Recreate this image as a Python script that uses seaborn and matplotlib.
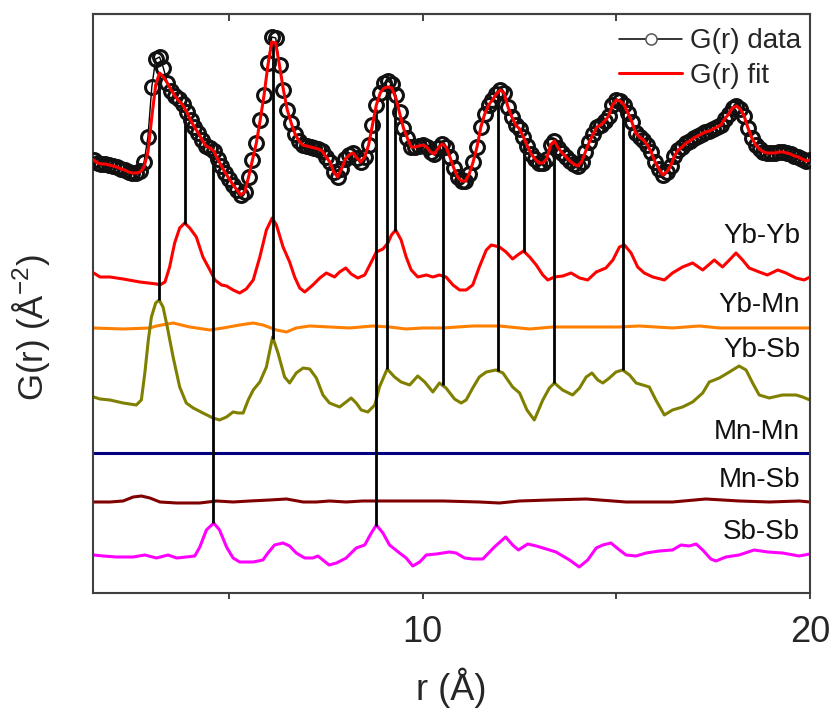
import numpy as np
import pandas as pd
import matplotlib
matplotlib.use("Agg")
import matplotlib.pyplot as plt
from matplotlib.lines import Line2D
import seaborn as sns

# ---------------- data (stacked, arbitrary units) ----------------
r_grid = np.round(np.arange(1.5, 20.0001, 0.1), 1)

g_data = [
    433, 430, 429, 429, 428,
    427, 426, 424, 423, 421, 420, 420, 422, 431, 456,
    506, 534, 536, 525, 510, 502, 497, 494, 489, 481,
    473, 466, 460, 453, 447, 445, 442, 434, 427, 420,
    414, 408, 403, 398, 401, 416, 433, 450, 473, 498,
    530, 556, 555, 528, 503, 483, 470, 459, 452, 448,
    447, 446, 445, 444, 442, 436, 431, 421, 416, 424,
    434, 438, 440, 435, 431, 436, 448, 468, 488, 500,
    510, 512, 509, 498, 481, 465, 455, 446, 446, 447,
    448, 446, 441, 439, 445, 449, 446, 436, 425, 416,
    412, 412, 419, 431, 446, 466, 479, 488, 493, 499,
    503, 500, 486, 476, 468, 464, 456, 447, 439, 434,
    430, 430, 434, 448, 452, 445, 440, 436, 432, 429,
    427, 431, 441, 451, 459, 466, 468, 472, 477, 488,
    493, 492, 488, 480, 471, 460, 456, 453, 448, 441,
    431, 424, 418, 421, 427, 437, 443, 446, 450, 452,
    455, 457, 459, 461, 462, 464, 466, 468, 474, 479,
    485, 487, 484, 477, 465, 455, 448, 444, 441, 440,
    440, 440, 441, 441, 440, 439, 437, 436, 434, 432,
    433,
]

g_fit = [
    433, 430, 429, 429, 428,
    427, 426, 424, 423, 421, 420, 420, 421, 426, 441,
    476, 508, 520, 516, 510, 503, 497, 492, 488, 481,
    473, 466, 460, 453, 447, 445, 442, 434, 427, 420,
    414, 408, 403, 398, 401, 416, 433, 450, 473, 498,
    528, 551, 550, 527, 503, 483, 470, 459, 452, 448,
    447, 446, 445, 444, 442, 436, 431, 421, 416, 424,
    434, 438, 440, 435, 431, 436, 448, 468, 488, 500,
    505, 506, 505, 495, 480, 465, 455, 446, 446, 447,
    448, 446, 441, 439, 445, 449, 446, 436, 425, 416,
    412, 412, 419, 431, 446, 466, 479, 488, 493, 499,
    503, 500, 486, 476, 468, 464, 456, 447, 439, 434,
    430, 430, 434, 448, 452, 445, 440, 436, 432, 429,
    427, 431, 441, 451, 459, 466, 468, 472, 477, 488,
    493, 492, 488, 480, 471, 460, 456, 453, 448, 441,
    431, 424, 418, 421, 427, 437, 443, 446, 450, 452,
    455, 457, 459, 461, 462, 464, 466, 468, 474, 479,
    485, 487, 484, 477, 465, 455, 448, 444, 441, 440,
    440, 440, 441, 441, 440, 439, 437, 436, 434, 432,
    433,
]

yb_yb_r = [1.50, 1.66, 1.92, 2.26, 2.69, 3.12, 3.21, 3.34, 3.46, 3.59, 3.72, 3.85, 3.98,
           4.15, 4.32, 4.50, 4.63, 4.80, 4.93, 5.10, 5.27, 5.44, 5.62, 5.79, 5.96, 6.11,
           6.22, 6.39, 6.56, 6.69, 6.82, 6.95, 7.16, 7.34, 7.51, 7.72, 7.85, 8.01, 8.15,
           8.32, 8.50, 8.67, 8.80, 8.97, 9.10, 9.19, 9.30, 9.44, 9.57, 9.70, 9.87, 10.09,
           10.26, 10.43, 10.60, 10.78, 10.95, 11.12, 11.29, 11.46, 11.64, 11.77, 11.98,
           12.15, 12.32, 12.45, 12.60, 12.76, 12.93, 13.10, 13.23, 13.40, 13.62, 13.83,
           14.05, 14.26, 14.48, 14.73, 14.91, 15.08, 15.21, 15.38, 15.55, 15.72, 15.94,
           16.24, 16.45, 16.71, 16.97, 17.23, 17.53, 17.74, 17.92, 18.09, 18.26, 18.43,
           18.69, 18.90, 19.17, 19.38, 19.64, 19.85, 20.00]
yb_yb_g = [320, 316, 316, 314, 311, 309, 308, 311, 326, 350, 365, 370, 365, 356, 336, 323,
           313, 308, 307, 303, 300, 304, 313, 336, 363, 375, 368, 346, 331, 316, 305, 301,
           308, 315, 320, 316, 321, 325, 319, 315, 318, 331, 341, 344, 350, 358, 363, 353,
           336, 323, 316, 318, 316, 318, 316, 308, 303, 303, 308, 326, 343, 348, 346, 341,
           334, 338, 342, 336, 328, 318, 313, 316, 317, 320, 315, 313, 321, 325, 333, 346,
           348, 340, 326, 320, 316, 313, 320, 326, 330, 323, 333, 326, 333, 340, 333, 325,
           321, 318, 323, 320, 315, 313, 316]

yb_mn_r = [1.50, 2.26, 2.95, 3.12, 3.55, 3.98, 4.50, 4.84, 5.27, 5.62, 5.87, 6.22, 6.48,
           6.73, 7.08, 7.59, 8.11, 8.71, 9.14, 9.57, 10.00, 10.52, 11.29, 11.98, 12.50,
           12.76, 13.36, 14.22, 15.08, 15.59, 16.45, 17.14, 17.66, 18.60, 20.00]
yb_mn_g = [265, 264, 265, 267, 270, 266, 263, 265, 268, 270, 268, 263, 261, 265, 267, 266,
           265, 267, 266, 264, 265, 265, 267, 267, 265, 264, 266, 266, 266, 267, 265, 267,
           265, 265, 265]

yb_sb_r = [1.50, 1.66, 1.92, 2.26, 2.60, 2.73, 2.82, 2.91, 2.99, 3.10, 3.19, 3.29, 3.40,
           3.55, 3.72, 3.89, 4.07, 4.32, 4.58, 4.75, 4.93, 5.10, 5.23, 5.36, 5.49, 5.62,
           5.79, 5.96, 6.12, 6.26, 6.43, 6.56, 6.73, 6.91, 7.08, 7.25, 7.42, 7.59, 7.85,
           8.02, 8.15, 8.28, 8.41, 8.58, 8.76, 8.88, 9.08, 9.27, 9.44, 9.66, 9.87, 10.05,
           10.26, 10.43, 10.60, 10.82, 10.99, 11.12, 11.29, 11.46, 11.64, 11.89, 12.07,
           12.32, 12.50, 12.69, 12.88, 13.10, 13.27, 13.40, 13.61, 13.87, 14.05, 14.22,
           14.37, 14.52, 14.65, 14.82, 14.99, 15.16, 15.34, 15.51, 15.68, 15.85, 16.02,
           16.24, 16.45, 16.71, 16.97, 17.23, 17.40, 17.66, 17.92, 18.17, 18.35, 18.52,
           18.69, 18.95, 19.29, 19.64, 19.81, 20.00]
yb_sb_g = [196, 194, 193, 190, 188, 193, 220, 253, 276, 290, 293, 286, 266, 236, 206, 190,
           185, 180, 175, 173, 176, 181, 180, 180, 193, 203, 211, 226, 256, 240, 216, 210,
           220, 225, 224, 215, 198, 190, 186, 191, 195, 190, 183, 181, 188, 206, 224, 216,
           211, 208, 217, 211, 201, 210, 205, 194, 190, 193, 205, 216, 221, 223, 220, 206,
           200, 183, 173, 193, 205, 210, 203, 198, 205, 216, 220, 213, 210, 215, 221, 223,
           218, 210, 208, 206, 193, 178, 183, 186, 191, 200, 211, 215, 221, 227, 223, 210,
           198, 195, 198, 198, 196, 193]

mn_mn_r = [1.50, 20.00]
mn_mn_g = [140, 140]

mn_sb_r = [1.50, 1.92, 2.26, 2.52, 2.73, 2.95, 3.21, 3.64, 4.24, 4.67, 5.10, 5.53, 6.05,
           6.48, 6.91, 7.25, 7.59, 8.02, 8.45, 8.88, 9.40, 10.00, 10.52, 11.46, 11.98,
           12.50, 13.27, 14.22, 15.25, 16.45, 17.31, 18.17, 18.95, 19.72, 20.00]
mn_sb_g = [91, 91, 92, 96, 97, 95, 91, 90, 90, 92, 91, 92, 93, 94, 91, 91, 92, 91, 92, 92,
           92, 92, 92, 91, 90, 92, 93, 94, 91, 91, 94, 92, 91, 92, 91]

sb_sb_r = [1.50, 1.74, 2.09, 2.52, 2.82, 3.12, 3.42, 3.64, 3.89, 4.11, 4.24, 4.41, 4.60,
           4.75, 4.93, 5.10, 5.27, 5.62, 5.87, 6.00, 6.17, 6.39, 6.56, 6.73, 6.95, 7.16,
           7.29, 7.42, 7.58, 7.77, 8.02, 8.28, 8.50, 8.67, 8.80, 8.97, 9.14, 9.40, 9.57,
           9.74, 9.92, 10.09, 10.35, 10.69, 10.86, 11.08, 11.29, 11.55, 11.85, 12.14,
           12.32, 12.47, 12.71, 12.93, 13.19, 13.44, 13.79, 14.04, 14.26, 14.48, 14.65,
           14.86, 15.08, 15.25, 15.51, 15.77, 16.11, 16.45, 16.67, 16.88, 17.06, 17.23,
           17.44, 17.57, 17.83, 18.17, 18.56, 18.91, 19.29, 19.72, 20.00]
sb_sb_g = [38, 37, 36, 36, 38, 35, 38, 35, 36, 37, 46, 63, 70, 63, 46, 35, 31, 31, 33, 40,
           48, 50, 47, 40, 35, 35, 37, 33, 28, 30, 35, 45, 48, 60, 68, 60, 48, 40, 35, 27,
           31, 38, 39, 41, 40, 35, 34, 34, 46, 56, 48, 43, 49, 47, 44, 41, 33, 26, 33, 45,
           48, 50, 43, 38, 37, 40, 42, 43, 48, 47, 49, 43, 34, 32, 36, 38, 43, 41, 40, 37,
           39]

pair_names = ["Yb-Yb", "Yb-Mn", "Yb-Sb", "Mn-Mn", "Mn-Sb", "Sb-Sb"]

# peak positions marked by drop lines, and the partial each one belongs to
peak_r = [3.19, 3.87, 4.59, 6.14, 8.78, 9.08, 9.27, 10.51, 11.94, 12.62, 13.39, 15.17]
peak_pair = ["Yb-Sb", "Yb-Yb", "Sb-Sb", "Yb-Sb", "Sb-Sb", "Yb-Sb", "Yb-Yb",
             "Yb-Sb", "Yb-Sb", "Yb-Yb", "Yb-Sb", "Yb-Sb"]

# ---------------- styling ----------------
pair_colors = {"Yb-Yb": "#ff0000", "Yb-Mn": "#ff8000", "Yb-Sb": "#808000",
               "Mn-Mn": "#000080", "Mn-Sb": "#800000", "Sb-Sb": "#ff00ff"}
label_x = 19.75
label_y = {"Yb-Yb": 350, "Yb-Mn": 281, "Yb-Sb": 236,
           "Mn-Mn": 154, "Mn-Sb": 106, "Sb-Sb": 54}

sns.set_theme(style="white")
plt.rcParams["font.family"] = ["Liberation Sans", "DejaVu Sans"]
plt.rcParams["mathtext.fontset"] = "custom"
plt.rcParams["mathtext.rm"] = "Liberation Sans"
plt.rcParams["mathtext.default"] = "regular"

partials = {
    "Yb-Yb": (yb_yb_r, yb_yb_g), "Yb-Mn": (yb_mn_r, yb_mn_g), "Yb-Sb": (yb_sb_r, yb_sb_g),
    "Mn-Mn": (mn_mn_r, mn_mn_g), "Mn-Sb": (mn_sb_r, mn_sb_g), "Sb-Sb": (sb_sb_r, sb_sb_g),
}
df_part = pd.concat(
    [pd.DataFrame({"r": r, "G": g, "pair": name}) for name, (r, g) in partials.items()],
    ignore_index=True,
)

fig = plt.figure(figsize=(8.33, 7.10), dpi=100)
ax = fig.add_axes([0.1116, 0.1648, 0.8607, 0.8155])

sns.lineplot(data=df_part, x="r", y="G", hue="pair", palette=pair_colors,
             estimator=None, sort=False, units="pair", lw=2.2, legend=False,
             ax=ax, zorder=2)

# drop lines from the fitted curve down to the matching partial peak
tops = np.interp(peak_r, r_grid, g_fit)
bottoms = [np.interp(p, *partials[name]) for p, name in zip(peak_r, peak_pair)]
ax.vlines(peak_r, bottoms, tops, colors="black", lw=2.0, zorder=3)

sns.lineplot(x=r_grid, y=g_data, estimator=None, sort=False, color="black", lw=1.0,
             marker="o", markersize=10, markerfacecolor="none",
             markeredgecolor="#111111", markeredgewidth=2.2, ax=ax, zorder=3.5)
sns.lineplot(x=r_grid, y=g_fit, estimator=None, sort=False, color="#ff0000", lw=2.2,
             ax=ax, zorder=4)

for name in pair_names:
    ax.text(label_x, label_y[name], name, ha="right", va="baseline",
            fontsize=20, color="#111111")

handles = [
    Line2D([0], [0], color="black", lw=1.1, marker="o", markersize=8,
           markerfacecolor="white", markeredgecolor="#555555", markeredgewidth=1.1),
    Line2D([0], [0], color="#ff0000", lw=2.2),
]
ax.legend(handles, ["G(r) data", "G(r) fit"], loc="upper right",
          bbox_to_anchor=(0.988, 0.975), frameon=False, fontsize=20,
          handlelength=2.25, handletextpad=0.3, labelspacing=0.3,
          borderpad=0.0, borderaxespad=0.0)

ax.set_xlim(1.48, 20.0)
ax.set_ylim(0, 579)
ax.set_yticks([])
ax.set_xticks([10, 20])
ax.set_xticks([5, 15], minor=True)
ax.tick_params(axis="x", which="both", direction="out", length=4.5, width=1.3,
               color="#333333", labelsize=26, pad=11, bottom=True, top=False)
for side in ["left", "right", "top", "bottom"]:
    ax.spines[side].set_color("#404040")
    ax.spines[side].set_linewidth(1.5)

top_ax = ax.secondary_xaxis("top")
top_ax.set_xticks([5, 10, 15, 20])
top_ax.tick_params(axis="x", direction="in", length=5, width=1.3, color="#333333",
                   labeltop=False)
top_ax.spines["top"].set_color("#404040")
top_ax.spines["top"].set_linewidth(1.5)

ax.set_xlabel("r (Å)", fontsize=26, labelpad=13)
ax.set_ylabel("G(r) (Å$^{-2}$)", fontsize=25)
ax.yaxis.set_label_coords(-0.057, 0.459)

fig.savefig("out.png", dpi=100)
